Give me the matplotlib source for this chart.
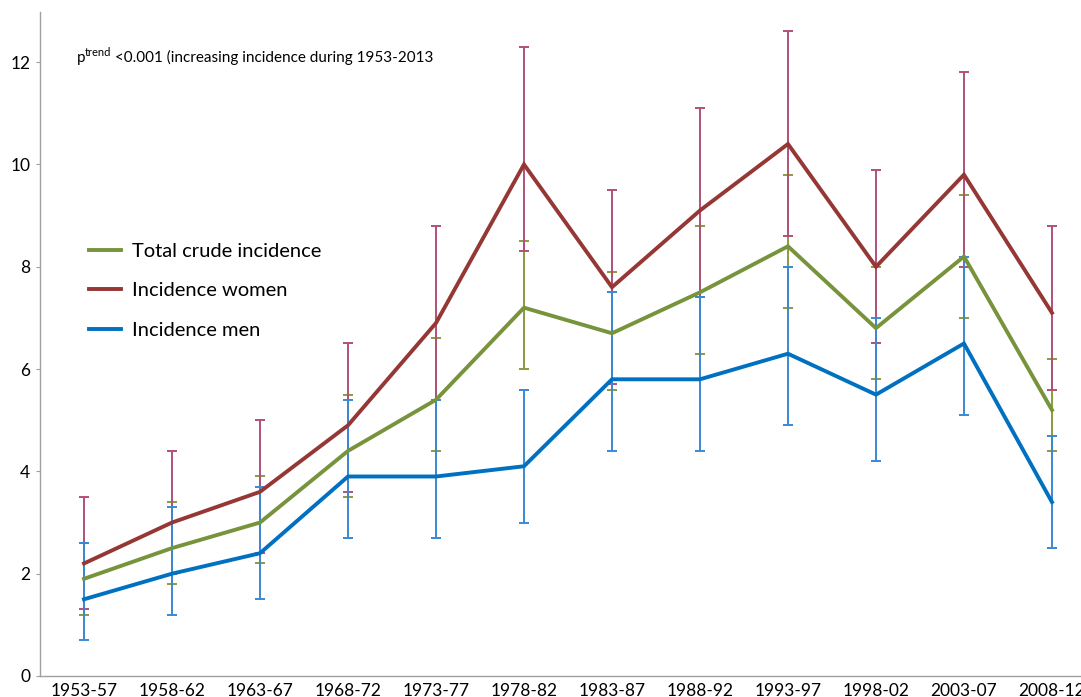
import numpy as np
import matplotlib
matplotlib.use("Agg")
import matplotlib.pyplot as plt

plt.rcParams['font.family'] = ['Lato', 'DejaVu Sans']

# periods
periods = ["1953-57", "1958-62", "1963-67", "1968-72", "1973-77", "1978-82",
           "1983-87", "1988-92", "1993-97", "1998-02", "2003-07", "2008-12"]

# total crude incidence with 95% CI
total = [1.9, 2.5, 3.0, 4.4, 5.4, 7.2, 6.7, 7.5, 8.4, 6.8, 8.2, 5.2]
total_lo = [1.2, 1.8, 2.2, 3.5, 4.4, 6.0, 5.6, 6.3, 7.2, 5.8, 7.0, 4.4]
total_hi = [2.6, 3.4, 3.9, 5.5, 6.6, 8.5, 7.9, 8.8, 9.8, 8.0, 9.4, 6.2]

# women
women = [2.2, 3.0, 3.6, 4.9, 6.9, 10.0, 7.6, 9.1, 10.4, 8.0, 9.8, 7.1]
women_lo = [1.3, 2.0, 2.4, 3.6, 5.4, 8.3, 5.7, 7.4, 8.6, 6.5, 8.0, 5.6]
women_hi = [3.5, 4.4, 5.0, 6.5, 8.8, 12.3, 9.5, 11.1, 12.6, 9.9, 11.8, 8.8]

# men
men = [1.5, 2.0, 2.4, 3.9, 3.9, 4.1, 5.8, 5.8, 6.3, 5.5, 6.5, 3.4]
men_lo = [0.7, 1.2, 1.5, 2.7, 2.7, 3.0, 4.4, 4.4, 4.9, 4.2, 5.1, 2.5]
men_hi = [2.6, 3.3, 3.7, 5.4, 5.4, 5.6, 7.5, 7.4, 8.0, 7.0, 8.2, 4.7]

fig = plt.figure(figsize=(10.81, 6.97), dpi=100)
ax = fig.add_axes([40/1081, 21/697, 1041/1081, 664/697])

x = np.arange(len(periods))

series = [
    (total, total_lo, total_hi, "#77933c", "#8c9a3c", "Total crude incidence"),
    (women, women_lo, women_hi, "#953735", "#b0507a", "Incidence women"),
    (men, men_lo, men_hi, "#0070c0", "#3a88d4", "Incidence men"),
]

# error bars under the lines
for vals, lo, hi, col, ecol, lab in series:
    vals = np.array(vals)
    err = [vals - np.array(lo), np.array(hi) - vals]
    ax.errorbar(x, vals, yerr=err, fmt='none', ecolor=ecol, elinewidth=1.4,
                capsize=3.5, capthick=1.4, zorder=2)

for vals, lo, hi, col, ecol, lab in series:
    ax.plot(x, vals, color=col, lw=2.8, label=lab, zorder=3,
            solid_joinstyle='miter')

ax.set_xlim(-0.5, 11.33)
ax.set_ylim(0, 12.98)
ax.set_yticks([0, 2, 4, 6, 8, 10, 12])
ax.set_xticks(x)
ax.set_xticklabels(periods)
ax.tick_params(axis='x', length=0, labelsize=12.5, pad=5)
ax.tick_params(axis='y', length=3, color='#a0a0a0', labelsize=12.5, pad=4)

for s in ['top', 'right']:
    ax.spines[s].set_visible(False)
for s in ['left', 'bottom']:
    ax.spines[s].set_color('#a0a0a0')
    ax.spines[s].set_linewidth(1.0)

leg = ax.legend(loc='center left', bbox_to_anchor=(0.0394, 0.58), frameon=False,
                fontsize=14.5, handlelength=1.6, labelspacing=1.1,
                handletextpad=0.55, borderaxespad=0)
for line in leg.get_lines():
    line.set_linewidth(2.8)

# p-trend annotation: "p" + superscript + rest
t1 = ax.text(0.035, 0.925, "p", transform=ax.transAxes, fontsize=11,
             va='baseline')
t2 = ax.annotate("trend", xy=(1, 0.45), xycoords=t1, fontsize=8,
                 va='bottom', ha='left')
fig.canvas.draw()
bb = t2.get_window_extent()
bb1 = t1.get_window_extent()
xr = ax.transAxes.inverted().transform((bb.x1, bb1.y0))[0]
ax.text(xr, 0.925, " <0.001 (increasing incidence during 1953-2013",
        transform=ax.transAxes, fontsize=11, va='baseline')

fig.savefig("out.png", dpi=100)
